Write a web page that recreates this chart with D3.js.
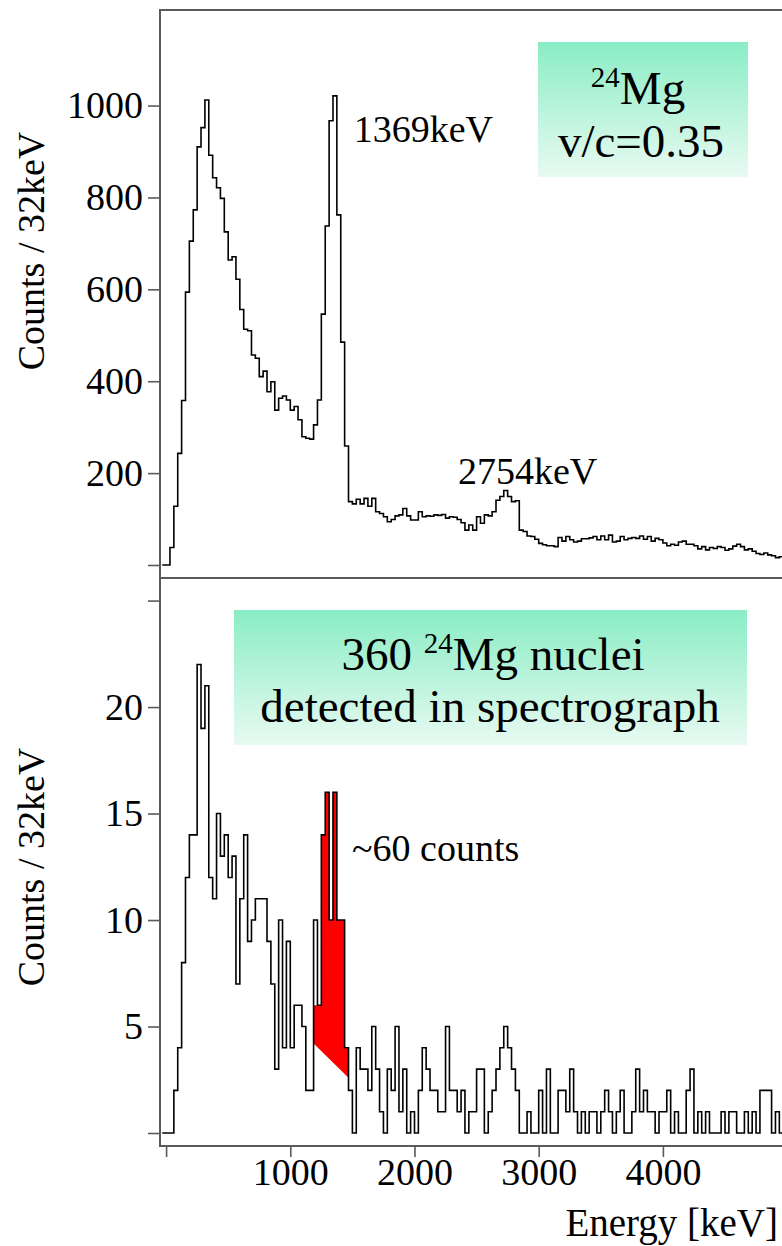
<!DOCTYPE html>
<html>
<head>
<meta charset="utf-8">
<script src="https://cdn.jsdelivr.net/npm/d3@7"></script>
<style>
  html, body { margin: 0; padding: 0; background: #fff; }
  svg { display: block; }
  text { font-family: "Liberation Serif", "Times New Roman", serif; fill: #000; }
</style>
</head>
<body>
<svg id="chart" width="782" height="1246"></svg>
<script>
// Histogram binning (keV)
const binLow = -31.25;
const binWidth = 31.25;

// Gamma spectrum gated on 24Mg, Doppler corrected (v/c = 0.35)
const singlesCounts = [0,0,38,128,243,358,594,705,773,910,952,1012,892,843,821,798,725,664,671,622,
  556,513,510,457,450,410,422,377,399,337,363,368,359,337,345,316,279,276,274,305,
  359,546,738,967,1021,762,485,259,138,133,143,133,145,128,145,116,112,105,94,99,
  107,109,123,107,98,98,116,105,107,106,109,108,110,102,105,104,99,92,76,87,
  76,105,91,109,107,116,141,149,162,149,138,140,76,73,63,62,56,47,44,42,
  42,40,60,52,62,55,50,52,57,57,59,62,55,63,55,65,50,52,62,55,
  58,60,58,63,56,62,52,58,55,48,42,45,43,50,52,45,45,42,35,40,
  33,38,36,40,38,32,35,41,45,40,33,35,30,25,23,26,22,20,16,18,15];

// Same spectrum for events with a 24Mg nucleus detected in the spectrograph
const taggedCounts = [0,0,0,2,4,8,12,14,14,22,19,21,12,11,15,13,14,12,13,7,
  11,14,9,10,11,11,11,9,7,3,10,4,9,4,6,6,5,2,2,10,
  6,14,16,10,16,10,10,4,2,0,4,3,3,2,5,3,1,0,3,2,
  5,1,3,0,1,0,2,4,3,2,2,1,1,5,2,2,1,2,0,1,
  1,3,3,0,1,2,3,4,5,4,3,2,0,0,1,0,0,2,0,3,
  0,0,2,2,1,3,1,0,1,0,1,1,0,1,2,1,0,1,2,0,
  0,1,3,1,2,1,1,0,1,1,2,0,1,0,0,2,3,0,1,0,
  1,0,0,0,1,0,1,1,0,0,1,0,1,0,2,2,2,0,1,0,1];

// Shaded 1369 keV peak: upper edge per bin (starting at peakFirstBin) and linear background
const peakFirstBin = 39;
const peakTop = [6, 6, 14, 16, 10, 16, 10, 10, 4];
const peakBackground = [[1187.5, 4.2], [1468.75, 2.6]];

const energyTicks = [0, 1000, 2000, 3000, 4000];
const singlesTicks = [0, 200, 400, 600, 800, 1000];
const taggedTicks = [0, 5, 10, 15, 20, 25];

// Peak labels, anchored at their left edge
const peakLabels = [
  { text: "1369keV", energy: 1510, counts: 920 },
  { text: "2754keV", energy: 2350, counts: 176 }
];

// ---------------------------------------------------------------
const svg = d3.select("#chart");
const frameLeft = 160, frameRight = 784;
const topY = 10, midY = 578, bottomY = 1146;
const axisColor = "#5a5a5a";

const x = d3.scaleLinear().domain([-49, 4975]).range([frameLeft, frameRight]);
const yTop = d3.scaleLinear().domain([-28.3, 1208]).range([midY, topY]);
const yBot = d3.scaleLinear().domain([-0.61, 26.06]).range([bottomY, midY]);

const edge = i => binLow + i * binWidth;

// Gradient for the annotation boxes
const defs = svg.append("defs");
const grad = defs.append("linearGradient").attr("id", "boxFill")
  .attr("x1", 0).attr("y1", 0).attr("x2", 0).attr("y2", 1);
grad.append("stop").attr("offset", "0%").attr("stop-color", "#8aedc5");
grad.append("stop").attr("offset", "100%").attr("stop-color", "#e8faf2");

defs.append("clipPath").attr("id", "clipTop").append("rect")
  .attr("x", frameLeft).attr("y", topY).attr("width", 782 - frameLeft).attr("height", midY - topY);
defs.append("clipPath").attr("id", "clipBot").append("rect")
  .attr("x", frameLeft).attr("y", midY).attr("width", 782 - frameLeft).attr("height", bottomY - midY);

function stepPoints(values) {
  const pts = values.map((v, i) => [edge(i), v]);
  pts.push([edge(values.length), values[values.length - 1]]);
  return pts;
}
function stepLine(y) {
  return d3.line().x(d => x(d[0])).y(d => y(d[1])).curve(d3.curveStepAfter);
}

// Annotation boxes (behind the data)
svg.append("rect").attr("x", 538).attr("y", 42).attr("width", 210).attr("height", 135)
  .attr("fill", "url(#boxFill)");
svg.append("rect").attr("x", 234).attr("y", 610).attr("width", 513).attr("height", 135)
  .attr("fill", "url(#boxFill)");

// Shaded peak region in the tagged spectrum
const bg = d3.scaleLinear()
  .domain(peakBackground.map(d => d[0]))
  .range(peakBackground.map(d => d[1]));
const peakPts = peakTop.map((v, k) => [edge(peakFirstBin + k), v]);
peakPts.push([edge(peakFirstBin + peakTop.length), peakTop[peakTop.length - 1]]);
const eA = edge(peakFirstBin), eB = edge(peakFirstBin + peakTop.length);
const peakPath = stepLine(yBot)(peakPts)
  + "L" + x(eB) + "," + yBot(bg(eB))
  + "L" + x(eA) + "," + yBot(bg(eA)) + "Z";
svg.append("path").attr("d", peakPath).attr("fill", "#ff0000").attr("stroke", "none")
  .attr("clip-path", "url(#clipBot)");

// Histograms
svg.append("path").attr("d", stepLine(yTop)(stepPoints(singlesCounts)))
  .attr("fill", "none").attr("stroke", "#000").attr("stroke-width", 1.6)
  .attr("clip-path", "url(#clipTop)");
svg.append("path").attr("d", stepLine(yBot)(stepPoints(taggedCounts)))
  .attr("fill", "none").attr("stroke", "#000").attr("stroke-width", 1.6)
  .attr("clip-path", "url(#clipBot)");

// Frame
const frame = svg.append("g").attr("stroke", axisColor).attr("stroke-width", 2).attr("fill", "none");
frame.append("line").attr("x1", frameLeft).attr("x2", 782).attr("y1", topY).attr("y2", topY);
frame.append("line").attr("x1", frameLeft).attr("x2", 782).attr("y1", midY).attr("y2", midY);
frame.append("line").attr("x1", frameLeft).attr("x2", 782).attr("y1", bottomY).attr("y2", bottomY);
frame.append("line").attr("x1", frameLeft).attr("x2", frameLeft).attr("y1", topY - 1).attr("y2", bottomY + 1);

// Axes
function styleAxis(g) {
  g.select(".domain").remove();
  g.selectAll(".tick line").attr("stroke", axisColor).attr("stroke-width", 1.6);
  g.selectAll(".tick text").attr("font-size", 38).attr("fill", "#000")
    .style("font-family", '"Liberation Serif", "Times New Roman", serif');
}
svg.append("g").attr("transform", `translate(${frameLeft},0)`)
  .call(d3.axisLeft(yTop).tickValues(singlesTicks).tickSize(12).tickPadding(5)
    .tickFormat(d => d === 0 ? "" : d))
  .call(styleAxis);
svg.append("g").attr("transform", `translate(${frameLeft},0)`)
  .call(d3.axisLeft(yBot).tickValues(taggedTicks).tickSize(12).tickPadding(5)
    .tickFormat(d => (d === 0 || d === 25) ? "" : d))
  .call(styleAxis);
const xAxis = svg.append("g").attr("transform", `translate(0,${bottomY})`)
  .call(d3.axisBottom(x).tickValues(energyTicks).tickSize(11)
    .tickFormat(d => d === 0 ? "" : d))
  .call(styleAxis);
xAxis.selectAll(".tick text").attr("y", 39).attr("dy", null);

// Axis titles
svg.append("text").attr("transform", "translate(44,251) rotate(-90)")
  .attr("text-anchor", "middle").attr("font-size", 38).text("Counts / 32keV");
svg.append("text").attr("transform", "translate(44,867) rotate(-90)")
  .attr("text-anchor", "middle").attr("font-size", 38).text("Counts / 32keV");
svg.append("text").attr("x", 778).attr("y", 1236).attr("text-anchor", "end")
  .attr("font-size", 39).text("Energy [keV]");

// Peak labels
peakLabels.forEach(p => {
  svg.append("text").attr("x", x(p.energy)).attr("y", yTop(p.counts))
    .attr("text-anchor", "start").attr("font-size", 38).text(p.text);
});
svg.append("text").attr("x", 352).attr("y", 861).attr("font-size", 38).text("~60 counts");

// Box texts
const t1 = svg.append("text").attr("x", 638).attr("y", 104).attr("text-anchor", "middle").attr("font-size", 47);
t1.append("tspan").attr("font-size", 29).attr("dy", -17).text("24");
t1.append("tspan").attr("dy", 17).text("Mg");
svg.append("text").attr("x", 641).attr("y", 157).attr("text-anchor", "middle").attr("font-size", 47).text("v/c=0.35");

const t2 = svg.append("text").attr("x", 493).attr("y", 670).attr("text-anchor", "middle").attr("font-size", 47);
t2.append("tspan").text("360 ");
t2.append("tspan").attr("font-size", 29).attr("dy", -17).text("24");
t2.append("tspan").attr("dy", 17).text("Mg nuclei");
svg.append("text").attr("x", 490).attr("y", 722).attr("text-anchor", "middle").attr("font-size", 47).text("detected in spectrograph");
</script>
</body>
</html>
